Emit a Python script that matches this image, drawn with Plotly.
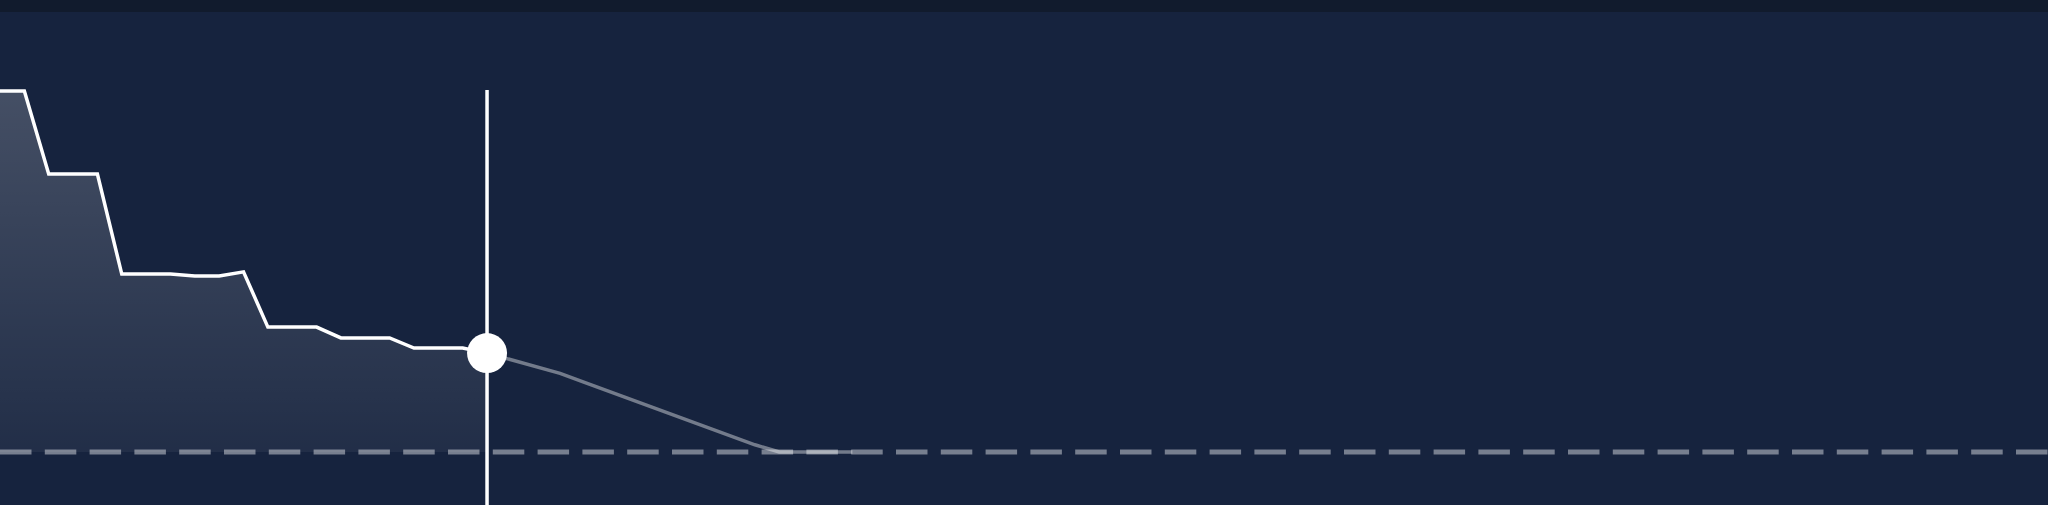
import plotly.graph_objects as go

# history (step-like) and projection, x in periods, y in remaining units
hist_x = list(range(0, 21))
hist_y = [100, 100, 77, 77, 77, 49.3, 49.3, 49.3, 48.75, 48.75, 49.9,
          34.6, 34.6, 34.6, 31.6, 31.6, 31.6, 28.8, 28.8, 28.8, 27.4]

proj_x = list(range(20, 36))
proj_y = [27.4, 25.6, 23.8, 21.8, 19.3, 16.8, 14.3, 11.9, 9.4, 6.9, 4.4, 2.0,
          0, 0, 0, 0]

today_x = 20
today_y = 27.4
cursor_top = 100.3

BG = '#16233e'
BAND = '#111b2d'

fig = go.Figure()

# filled history area with vertical gradient
fig.add_trace(go.Scatter(
    x=hist_x, y=hist_y, mode='lines',
    line=dict(color='white', width=3.5),
    fill='tozeroy',
    fillgradient=dict(type='vertical',
                      colorscale=[[0, 'rgba(255,255,255,0.05)'],
                                  [1, 'rgba(255,255,255,0.2)']]),
    hoverinfo='skip', showlegend=False,
))

# projection
fig.add_trace(go.Scatter(
    x=proj_x, y=proj_y, mode='lines',
    line=dict(color='rgba(255,255,255,0.4)', width=3.5),
    hoverinfo='skip', showlegend=False,
))

# zero baseline (dashed)
fig.add_shape(type='line', xref='paper', yref='y', x0=0, x1=1, y0=0, y1=0,
              line=dict(color='rgba(255,255,255,0.42)', width=5, dash='31.5px,13.3px'),
              layer='above')

# vertical cursor at today
fig.add_shape(type='line', xref='x', yref='y', x0=today_x, x1=today_x,
              y0=-30, y1=cursor_top, line=dict(color='white', width=3.5), layer='above')

# marker
fig.add_trace(go.Scatter(
    x=[today_x], y=[today_y], mode='markers',
    marker=dict(color='white', size=40, line=dict(width=0)),
    hoverinfo='skip', showlegend=False, cliponaxis=False,
))

fig.update_layout(
    width=2048, height=505,
    margin=dict(l=0, r=0, t=12, b=0),
    paper_bgcolor=BAND, plot_bgcolor=BG,
    xaxis=dict(range=[0, 84.1], visible=False, showgrid=False, zeroline=False),
    yaxis=dict(range=[-14.68, 121.9], visible=False, showgrid=False, zeroline=False),
)

fig.write_html("out.html", config={'displayModeBar': False},
               post_script="document.body.style.margin='0';"
                           "document.body.style.background='%s';" % BAND)
